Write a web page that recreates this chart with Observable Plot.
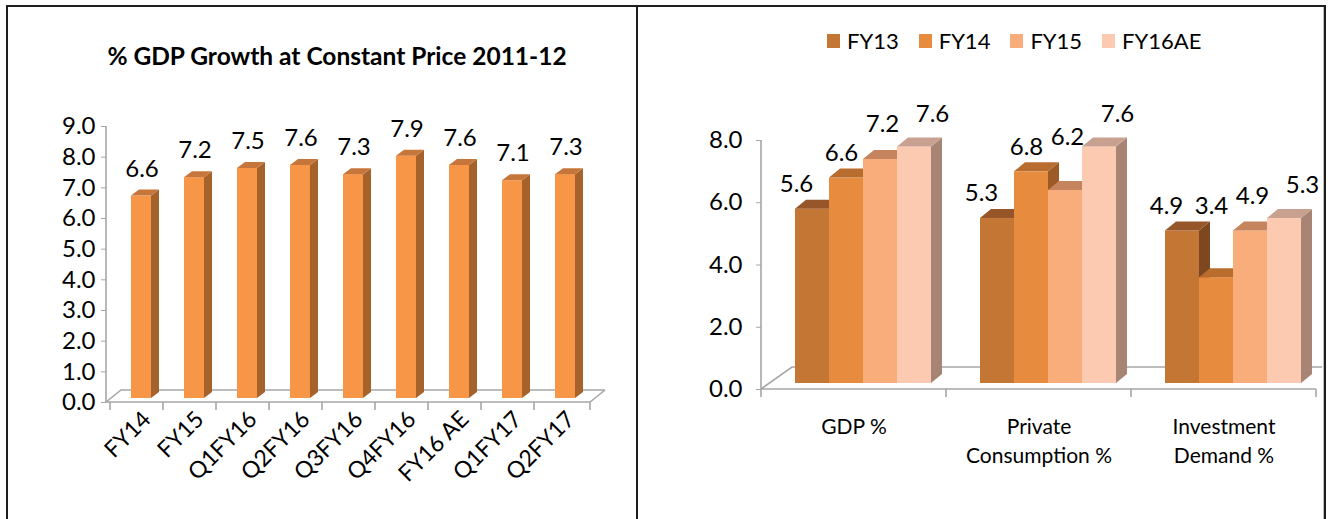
<!DOCTYPE html>
<html>
<head>
<meta charset="utf-8">
<script src="https://cdn.jsdelivr.net/npm/d3@7"></script>
<script src="https://cdn.jsdelivr.net/npm/@observablehq/plot@0.6"></script>
<style>
  html, body { margin: 0; padding: 0; background: #fff; }
  body { font-family: Lato, "Open Sans", sans-serif; }
  #wrap { position: relative; width: 1328px; height: 519px; overflow: hidden; background: #fff; }
  .frame { position: absolute; left: 6px; top: 5px; width: 1320px; height: 530px; box-sizing: border-box;
           border-top: 2px solid #1e1e1e; border-left: 2px solid #1e1e1e; border-right: 2px solid #1e1e1e; }
  .frame::after { content: ""; position: absolute; right: 0; top: 0; bottom: 0; width: 1px; background: #b8b8b8; }
  .divider { position: absolute; left: 636px; top: 5px; width: 2px; height: 520px; background: #1e1e1e; }
  #left { position: absolute; left: 9px; top: 0; }
  #right { position: absolute; left: 639px; top: 0; }
  .title { position: absolute; left: 9px; width: 656px; top: 41px; text-align: center;
           font: bold 24.5px Lato, sans-serif; color: #000; }
  .legend { position: absolute; left: 827px; top: 27px; display: flex; align-items: center;
            font: 22px Lato, sans-serif; color: #000; }
  .legend .item { display: flex; align-items: center; margin-right: 20px; }
  .legend .sw { width: 13px; height: 14px; margin-right: 7px; }
</style>
</head>
<body>
<div id="wrap">
  <div class="frame"></div>
  <div class="divider"></div>
  <div class="title">% GDP Growth at Constant Price 2011-12</div>
  <div class="legend" id="legend"></div>
  <div id="left"></div>
  <div id="right"></div>
</div>
<script>
// ---------- Data: left chart ----------
const periods = ["FY14", "FY15", "Q1FY16", "Q2FY16", "Q3FY16", "Q4FY16", "FY16 AE", "Q1FY17", "Q2FY17"];
const gdpGrowth = [6.6, 7.2, 7.5, 7.6, 7.3, 7.9, 7.6, 7.1, 7.3];
const leftTicks = [0, 1, 2, 3, 4, 5, 6, 7, 8, 9];

// ---------- Data: right chart ----------
const components = ["GDP %", "Private\nConsumption %", "Investment\nDemand %"];
const years = ["FY13", "FY14", "FY15", "FY16AE"];
const fy13 = [5.6, 5.3, 4.9];
const fy14 = [6.6, 6.8, 3.4];
const fy15 = [7.2, 6.2, 4.9];
const fy16ae = [7.6, 7.6, 5.3];
const rightTicks = [0, 2, 4, 6, 8];

// ---------- Styles ----------
const GRID = "#a6a6a6";
const FONT = "Lato, 'Open Sans', sans-serif";
const seriesColors = [
  {front: "#c47634", top: "#97562a", side: "#7d4720"},
  {front: "#e78c3f", top: "#b86c2e", side: "#9d5a26"},
  {front: "#f8ad7b", top: "#c5845d", side: "#b07150"},
  {front: "#fbcab1", top: "#c9a190", side: "#a88474"}
];
const svgNS = "http://www.w3.org/2000/svg";

// render transform adding a 3D top & side face to every bar rect
function faces3d(depthX, depthY, topColor, sideColor) {
  return function (index, scales, values, dimensions, context, next) {
    const g = next(index, scales, values, dimensions, context);
    for (const r of Array.from(g.querySelectorAll("rect"))) {
      const x = +r.getAttribute("x"), y = +r.getAttribute("y");
      const w = +r.getAttribute("width"), h = +r.getAttribute("height");
      const side = document.createElementNS(svgNS, "path");
      side.setAttribute("d", `M${x + w},${y}L${x + w + depthX},${y - depthY}L${x + w + depthX},${y + h - depthY}L${x + w},${y + h}Z`);
      side.setAttribute("fill", sideColor);
      const top = document.createElementNS(svgNS, "path");
      top.setAttribute("d", `M${x},${y}L${x + depthX},${y - depthY}L${x + w + depthX},${y - depthY}L${x + w},${y}Z`);
      top.setAttribute("fill", topColor);
      r.after(side, top);
    }
    return g;
  };
}

// floor + axis lines drawn from the plot's scales
function floorMark(yMax, depthX, depthY, clipRight) {
  return Plot.ruleY([0], {
    render(index, scales, values, dimensions) {
      const L = dimensions.marginLeft, R = dimensions.width - dimensions.marginRight;
      const y0 = scales.y(0), yTop = scales.y(yMax);
      const g = d3.create("svg:g").attr("fill", "none").attr("stroke", GRID).attr("stroke-width", 1.6);
      g.append("path").attr("d", `M${L},${yTop}V${y0}`);
      g.append("path").attr("d", `M${L},${y0}H${R}` + (clipRight ? "" : `L${R + depthX},${y0 - depthY}`) +
        `M${L},${y0}L${L + depthX},${y0 - depthY}H${R + depthX}`);
      // x tick marks at the category boundaries
      const bounds = scales.x.domain().map(d => scales.x(d)).concat([R]);
      for (const b of bounds) g.append("path").attr("d", `M${b},${y0}v8`);
      return g.node();
    }
  });
}

// ---------- Left chart ----------
{
  const W = 627, H = 519;
  const leftData = periods.map((p, i) => ({period: p, value: gdpGrowth[i]}));
  const chart = Plot.plot({
    width: W, height: H,
    marginLeft: 97, marginRight: 46, marginTop: 126, marginBottom: 117,
    style: {fontFamily: FONT, fontSize: "24px", color: "#000", background: "transparent", overflow: "visible"},
    x: {domain: periods, padding: 0, axis: null},
    y: {domain: [0, 9], axis: null},
    marks: [
      floorMark(9, 15, 12, false),
      Plot.axisY({ticks: leftTicks, tickFormat: d => d.toFixed(1), tickSize: 5, tickPadding: 6,
                  stroke: GRID, fill: "#000", fontSize: 24, label: null}),
      Plot.axisX({tickRotate: -45, tickSize: 0, tickPadding: 13, dx: 10, fontSize: 23, fill: "#000", label: null}),
      Plot.barY(leftData, {x: "period", y: "value", fill: "#f79646", insetLeft: 21, insetRight: 12, dy: -4,
                 render: faces3d(8, 6, "#c7763b", "#a5622a")}),
      Plot.text(leftData, {x: "period", y: "value", text: d => d.value.toFixed(1), dx: 5, dy: -31,
                 fontSize: 24, fill: "#000"})
    ]
  });
  document.getElementById("left").append(chart);
}

// ---------- Right chart ----------
{
  const W = 683, H = 519;
  const step = 185, groupOffset = 34, barW = 34;
  const seriesValues = [fy13, fy14, fy15, fy16ae];
  const labelDx = [-16, -5, 2, 18];
  const labelDy = [-31, -31, -41, -39];
  const marks = [
    floorMark(8, 31, 22, true),
    Plot.axisY({ticks: rightTicks, tickFormat: d => d.toFixed(1), tickSize: 5, tickPadding: 14,
                stroke: GRID, fill: "#000", fontSize: 24, label: null}),
    Plot.axisX({tickSize: 0, tickPadding: 24, fontSize: 21, lineHeight: 1.38, fill: "#000", label: null})
  ];
  seriesValues.forEach((vals, s) => {
    const data = components.map((c, i) => ({component: c, value: vals[i]}));
    const c = seriesColors[s];
    const inL = groupOffset + barW * s;
    const inR = step - groupOffset - barW * (s + 1);
    marks.push(Plot.barY(data, {x: "component", y: "value", fill: c.front, insetLeft: inL, insetRight: inR, dy: -6,
      render: faces3d(11, 9, c.top, c.side)}));
  });
  seriesValues.forEach((vals, s) => {
    // label sits above its own bar, or above a taller bar just to its left (avoids overlapping that bar's side)
    const data = components.map((c, i) => ({
      component: c, value: vals[i],
      anchor: s > 0 ? Math.max(vals[i], seriesValues[s - 1][i]) : vals[i]
    }));
    const center = groupOffset + barW * s + barW / 2 - step / 2;
    marks.push(Plot.text(data, {x: "component", y: "anchor", text: d => d.value.toFixed(1),
      dx: center + labelDx[s], dy: labelDy[s], fontSize: 24, fill: "#000"}));
  });
  const chart = Plot.plot({
    width: W, height: H,
    marginLeft: 122, marginRight: 6, marginTop: 140, marginBottom: 130,
    style: {fontFamily: FONT, fontSize: "24px", color: "#000", background: "transparent"},
    x: {domain: components, padding: 0, axis: null},
    y: {domain: [0, 8], axis: null},
    marks
  });
  document.getElementById("right").append(chart);

  // legend
  const lg = document.getElementById("legend");
  years.forEach((y, s) => {
    const item = document.createElement("div");
    item.className = "item";
    item.innerHTML = `<span class="sw" style="background:${seriesColors[s].front}"></span><span>${y}</span>`;
    lg.append(item);
  });
}
</script>
</body>
</html>
